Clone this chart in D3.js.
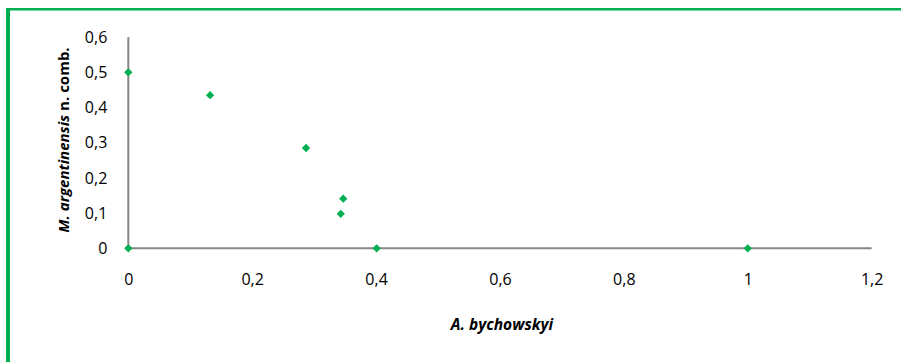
<!DOCTYPE html>
<html>
<head>
<meta charset="utf-8">
<script src="https://cdn.jsdelivr.net/npm/d3@7"></script>
<style>
  html, body { margin: 0; padding: 0; background: #fff; }
  svg { display: block; }
  text { font-family: "Open Sans", sans-serif; fill: #000; }
</style>
</head>
<body>
<svg id="chart" width="901" height="362"></svg>
<script>
// Paired values: A. bychowskyi (x) vs M. argentinensis n. comb. (y)
const xValues = [0, 0, 0.132, 0.287, 0.347, 0.343, 0.401, 1];
const yValues = [0.5, 0, 0.435, 0.285, 0.141, 0.098, 0, 0];
const xTicks = [0, 0.2, 0.4, 0.6, 0.8, 1, 1.2];
const yTicks = [0, 0.1, 0.2, 0.3, 0.4, 0.5, 0.6];

const svg = d3.select("#chart");
const W = 901, H = 362;
const green = "#00b050";
const axisGrey = "#868686";
const font = "'Open Sans', sans-serif";

// Frame strokes along the top and left edges
svg.append("rect").attr("x", 6).attr("y", 8).attr("width", W - 6).attr("height", 2.5).attr("fill", green);
svg.append("rect").attr("x", 6).attr("y", 8).attr("width", 4).attr("height", H - 8).attr("fill", green);

const x = d3.scaleLinear().domain([0, 1.2]).range([128.3, 871.6]);
const y = d3.scaleLinear().domain([0, 0.6]).range([248.3, 37.1]);

const fmt = d => String(+d.toFixed(1)).replace(".", ",");

// X axis
const gx = svg.append("g").attr("transform", `translate(0,${y(0)})`)
  .call(d3.axisBottom(x).tickValues(xTicks).tickSize(0).tickPadding(25).tickFormat(fmt));
gx.select(".domain").attr("stroke", axisGrey).attr("stroke-width", 2).attr("d", `M${x(0)},0H${x(1.2)}`);
gx.selectAll("text").attr("font-size", 16).attr("font-family", font).attr("fill", "#000");

// Y axis
const gy = svg.append("g").attr("transform", `translate(${x(0)},0)`)
  .call(d3.axisLeft(y).tickValues(yTicks).tickSize(0).tickPadding(21).tickFormat(fmt));
gy.select(".domain").attr("stroke", axisGrey).attr("stroke-width", 2).attr("d", `M0,${y(0.6)}V${y(0)}`);
gy.selectAll("text").attr("font-size", 16).attr("font-family", font).attr("fill", "#000");

// Diamond markers
const diamond = d3.symbol().type(d3.symbolDiamond2).size(44);
svg.append("g").selectAll("path")
  .data(xValues.map((v, i) => [v, yValues[i]]))
  .join("path")
  .attr("d", diamond)
  .attr("transform", d => `translate(${x(d[0])},${y(d[1])})`)
  .attr("fill", green);

// Axis titles
svg.append("text")
  .attr("x", 502).attr("y", 330)
  .attr("text-anchor", "middle")
  .attr("font-size", 15.5).attr("font-weight", "bold").attr("font-style", "italic")
  .text("A. bychowskyi");

const yt = svg.append("text")
  .attr("transform", `translate(69,140) rotate(-90)`)
  .attr("text-anchor", "middle")
  .attr("font-size", 15).attr("font-weight", "bold");
yt.append("tspan").attr("font-style", "italic").text("M. argentinensis");
yt.append("tspan").text(" n. comb.");
</script>
</body>
</html>
